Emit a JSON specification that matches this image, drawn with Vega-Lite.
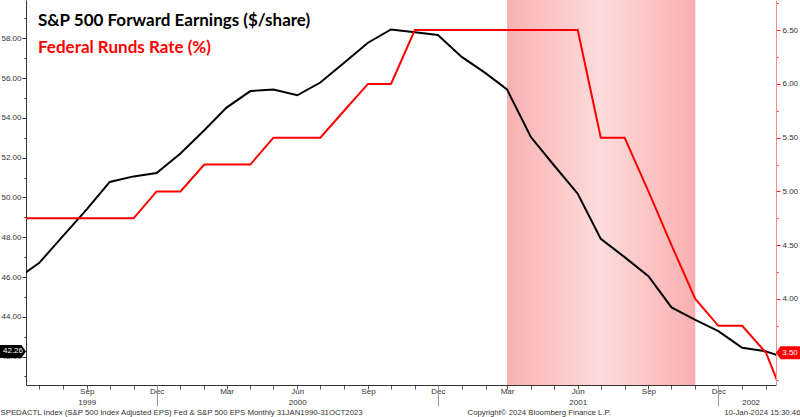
{
  "$schema": "https://vega.github.io/schema/vega-lite/v6.json",
  "width": 750,
  "height": 385,
  "autosize": "none",
  "padding": {"left": 26, "top": 0, "right": 24, "bottom": 32},
  "config": {"view": {"stroke": null}, "font": "Liberation Sans"},
  "title": {
    "text": "S&P 500 Forward Earnings ($/share)",
    "subtitle": "Federal Runds Rate (%)",
    "anchor": "start",
    "frame": "group",
    "orient": "top",
    "offset": 0,
    "dx": 12,
    "dy": 58,
    "font": "Lato",
    "fontSize": 17,
    "fontWeight": "bold",
    "color": "#000000",
    "subtitleFont": "Lato",
    "subtitleFontSize": 17,
    "subtitleFontWeight": "bold",
    "subtitleColor": "#ff0000",
    "subtitlePadding": 10
  },
  "datasets": {
    "earn": [
      {"date": "1999-06-01", "eps": 45.88},
      {"date": "1999-07-01", "eps": 46.70},
      {"date": "1999-08-01", "eps": 48.06},
      {"date": "1999-09-01", "eps": 49.40},
      {"date": "1999-10-01", "eps": 50.78},
      {"date": "1999-11-01", "eps": 51.06},
      {"date": "1999-12-01", "eps": 51.23},
      {"date": "2000-01-01", "eps": 52.21},
      {"date": "2000-02-01", "eps": 53.38},
      {"date": "2000-03-01", "eps": 54.52},
      {"date": "2000-04-01", "eps": 55.35},
      {"date": "2000-05-01", "eps": 55.43},
      {"date": "2000-06-01", "eps": 55.14},
      {"date": "2000-07-01", "eps": 55.78},
      {"date": "2000-08-01", "eps": 56.77},
      {"date": "2000-09-01", "eps": 57.78},
      {"date": "2000-10-01", "eps": 58.45},
      {"date": "2000-11-01", "eps": 58.31},
      {"date": "2000-12-01", "eps": 58.17},
      {"date": "2001-01-01", "eps": 57.07},
      {"date": "2001-02-01", "eps": 56.25},
      {"date": "2001-03-01", "eps": 55.43},
      {"date": "2001-04-01", "eps": 53.04},
      {"date": "2001-05-01", "eps": 51.62},
      {"date": "2001-06-01", "eps": 50.19},
      {"date": "2001-07-01", "eps": 47.92},
      {"date": "2001-08-01", "eps": 47.00},
      {"date": "2001-09-01", "eps": 46.04},
      {"date": "2001-10-01", "eps": 44.47},
      {"date": "2001-11-01", "eps": 43.84},
      {"date": "2001-12-01", "eps": 43.28},
      {"date": "2002-01-01", "eps": 42.44},
      {"date": "2002-02-01", "eps": 42.26},
      {"date": "2002-03-01", "eps": 41.90}
    ],
    "fed": [
      {"date": "1999-06-01", "rate": 4.75},
      {"date": "1999-07-01", "rate": 4.75},
      {"date": "1999-08-01", "rate": 4.75},
      {"date": "1999-09-01", "rate": 4.75},
      {"date": "1999-10-01", "rate": 4.75},
      {"date": "1999-11-01", "rate": 4.75},
      {"date": "1999-12-01", "rate": 5.00},
      {"date": "2000-01-01", "rate": 5.00},
      {"date": "2000-02-01", "rate": 5.25},
      {"date": "2000-03-01", "rate": 5.25},
      {"date": "2000-04-01", "rate": 5.25},
      {"date": "2000-05-01", "rate": 5.50},
      {"date": "2000-06-01", "rate": 5.50},
      {"date": "2000-07-01", "rate": 5.50},
      {"date": "2000-08-01", "rate": 5.75},
      {"date": "2000-09-01", "rate": 6.00},
      {"date": "2000-10-01", "rate": 6.00},
      {"date": "2000-11-01", "rate": 6.50},
      {"date": "2000-12-01", "rate": 6.50},
      {"date": "2001-01-01", "rate": 6.50},
      {"date": "2001-02-01", "rate": 6.50},
      {"date": "2001-03-01", "rate": 6.50},
      {"date": "2001-04-01", "rate": 6.50},
      {"date": "2001-05-01", "rate": 6.50},
      {"date": "2001-06-01", "rate": 6.50},
      {"date": "2001-07-01", "rate": 5.50},
      {"date": "2001-08-01", "rate": 5.50},
      {"date": "2001-09-01", "rate": 5.00},
      {"date": "2001-10-01", "rate": 4.50},
      {"date": "2001-11-01", "rate": 4.00},
      {"date": "2001-12-01", "rate": 3.75},
      {"date": "2002-01-01", "rate": 3.75},
      {"date": "2002-02-01", "rate": 3.50},
      {"date": "2002-03-01", "rate": 3.00}
    ],
    "recession": [
      {"start": "2001-03-01", "end": "2001-11-01"}
    ],
    "lastEps": [{"value": 42.26, "label": "42.26"}],
    "lastRate": [{"value": 3.5, "label": "3.50"}]
  },
  "layer": [
    {
      "layer": [
        {
          "data": {"name": "recession"},
          "mark": {
            "type": "rect",
            "fill": {
              "gradient": "linear",
              "x1": 0, "y1": 0, "x2": 1, "y2": 0,
              "stops": [
                {"offset": 0, "color": "#f9b1b1"},
                {"offset": 0.5, "color": "#fddcdc"},
                {"offset": 1, "color": "#f9afaf"}
              ]
            }
          },
          "encoding": {
            "x": {"field": "start", "type": "temporal"},
            "x2": {"field": "end"}
          }
        },
        {
          "data": {"name": "earn"},
          "mark": {"type": "line", "clip": true, "color": "#000000", "strokeWidth": 2},
          "encoding": {
            "x": {
              "field": "date",
              "type": "temporal",
              "scale": {
                "type": "utc",
                "domain": [
                  {"year": 1999, "month": 6, "date": 14, "utc": true},
                  {"year": 2002, "month": 2, "date": 14, "utc": true}
                ]
              },
              "axis": {
                "orient": "bottom",
                "tickCount": {"interval": "month", "step": 1},
                "labelExpr": "utcmonth(datum.value) % 3 == 2 ? utcFormat(datum.value, '%b') : ''",
                "labelOverlap": false,
                "labelFlush": false,
                "labelAlign": "center",
                "labelBaseline": "top",
                "labelPadding": -2,
                "labelFont": "Liberation Sans",
                "labelFontSize": 8,
                "labelColor": "#333333",
                "tickColor": "#555555",
                "tickSize": 4,
                "domainColor": "#333333",
                "grid": false,
                "title": "SPEDACTL Index (S&P 500 Index Adjusted EPS) Fed & S&P 500 EPS  Monthly 31JAN1990-31OCT2023",
                "titleX": -26,
                "titleY": 29,
                "titleAlign": "left",
                "titleAnchor": "start",
                "titleBaseline": "alphabetic",
                "titleFont": "Liberation Sans",
                "titleFontSize": 7.8,
                "titleFontWeight": "normal",
                "titleColor": "#333333"
              }
            },
            "y": {
              "field": "eps",
              "type": "quantitative",
              "scale": {"domain": [40.57, 59.93], "nice": false, "zero": false},
              "axis": {
                "orient": "left",
                "values": [41, 42, 43, 44, 45, 46, 47, 48, 49, 50, 51, 52, 53, 54, 55, 56, 57, 58, 59],
                "format": ".2f",
                "labelOpacity": {"condition": {"test": "datum.value % 2 != 0", "value": 0}, "value": 1},
                "labelOverlap": false,
                "labelFont": "Liberation Sans",
                "labelFontSize": 8,
                "labelColor": "#333333",
                "labelPadding": 1,
                "tickColor": "#333333",
                "tickSize": {"condition": {"test": "datum.value % 2 != 0", "value": 2}, "value": 4},
                "domainColor": "#333333",
                "grid": false,
                "title": "Copyright© 2024 Bloomberg Finance L.P.",
                "titleAngle": 0,
                "titleX": 441,
                "titleY": 414,
                "titleAlign": "left",
                "titleBaseline": "alphabetic",
                "titleFont": "Liberation Sans",
                "titleFontSize": 7.8,
                "titleFontWeight": "normal",
                "titleColor": "#333333"
              }
            }
          }
        }
      ]
    },
    {
      "data": {"name": "fed"},
      "mark": {"type": "line", "clip": true, "color": "#ff0000", "strokeWidth": 2},
      "encoding": {
        "x": {
          "field": "date",
          "type": "temporal",
          "axis": {
            "orient": "bottom",
            "values": [
              {"year": 1999, "month": 9, "date": 1, "utc": true},
              {"year": 1999, "month": 12, "date": 1, "utc": true},
              {"year": 2000, "month": 6, "date": 1, "utc": true},
              {"year": 2000, "month": 12, "date": 1, "utc": true},
              {"year": 2001, "month": 6, "date": 1, "utc": true},
              {"year": 2001, "month": 12, "date": 1, "utc": true},
              {"year": 2002, "month": 1, "date": 12, "utc": true}
            ],
            "domain": false,
            "tickSize": 21,
            "tickColor": "#999999",
            "tickOpacity": {"condition": {"test": "utcmonth(datum.value) == 11", "value": 1}, "value": 0},
            "labelExpr": "utcmonth(datum.value) == 11 ? '' : utcFormat(datum.value, '%Y')",
            "labelOverlap": false,
            "labelFlush": false,
            "labelAlign": "center",
            "labelBaseline": "top",
            "labelPadding": -8,
            "labelFont": "Liberation Sans",
            "labelFontSize": 8,
            "labelColor": "#333333",
            "grid": false,
            "title": null
          }
        },
        "y": {
          "field": "rate",
          "type": "quantitative",
          "scale": {"domain": [3.2, 6.78], "nice": false, "zero": false},
          "axis": {
            "orient": "right",
            "values": [3.25, 3.5, 3.75, 4, 4.25, 4.5, 4.75, 5, 5.25, 5.5, 5.75, 6, 6.25, 6.5, 6.75],
            "format": ".2f",
            "labelOpacity": {"condition": {"test": "(datum.value * 2) % 1 != 0", "value": 0}, "value": 1},
            "labelOverlap": false,
            "labelFont": "Liberation Sans",
            "labelFontSize": 8,
            "labelColor": "#333333",
            "labelPadding": 2,
            "tickColor": "#ff2020",
            "tickSize": {"condition": {"test": "(datum.value * 2) % 1 != 0", "value": 2}, "value": 4},
            "domainColor": "#ff8a8a",
            "grid": false,
            "title": "10-Jan-2024 15:30:46",
            "titleAngle": 0,
            "titleX": 24,
            "titleY": 414,
            "titleAlign": "right",
            "titleBaseline": "alphabetic",
            "titleFont": "Liberation Sans",
            "titleFontSize": 7.8,
            "titleFontWeight": "normal",
            "titleColor": "#333333"
          }
        }
      }
    },
    {
      "data": {"name": "lastEps"},
      "encoding": {
        "x": {
          "datum": {"year": 1999, "month": 6, "date": 14, "utc": true},
          "type": "temporal",
          "axis": {"labels": false, "ticks": false, "domain": false, "grid": false, "title": null, "orient": "bottom"}
        },
        "y": {
          "field": "value",
          "type": "quantitative",
          "scale": {"domain": [40.57, 59.93], "nice": false, "zero": false},
          "axis": {"labels": false, "ticks": false, "domain": false, "grid": false, "title": null, "orient": "left"}
        }
      },
      "layer": [
        {
          "mark": {
            "type": "point",
            "shape": "M0,0L-0.35,-0.5L-2,-0.5L-2,0.5L-0.35,0.5Z",
            "size": 676,
            "filled": true,
            "opacity": 1,
            "color": "#000000"
          }
        },
        {
          "mark": {"type": "text", "color": "#ffffff", "fontSize": 8, "font": "Liberation Sans", "align": "center", "baseline": "middle", "dx": -13},
          "encoding": {"text": {"field": "label"}}
        }
      ]
    },
    {
      "data": {"name": "lastRate"},
      "encoding": {
        "x": {
          "datum": {"year": 2002, "month": 2, "date": 14, "utc": true},
          "type": "temporal",
          "axis": {"labels": false, "ticks": false, "domain": false, "grid": false, "title": null, "orient": "bottom"}
        },
        "y": {
          "field": "value",
          "type": "quantitative",
          "scale": {"domain": [3.2, 6.78], "nice": false, "zero": false},
          "axis": {"labels": false, "ticks": false, "domain": false, "grid": false, "title": null, "orient": "right"}
        }
      },
      "layer": [
        {
          "mark": {
            "type": "point",
            "shape": "M0,0L0.35,-0.5L2,-0.5L2,0.5L0.35,0.5Z",
            "size": 676,
            "filled": true,
            "opacity": 1,
            "color": "#ff0000"
          }
        },
        {
          "mark": {"type": "text", "color": "#ffffff", "fontSize": 8, "font": "Liberation Sans", "align": "center", "baseline": "middle", "dx": 14},
          "encoding": {"text": {"field": "label"}}
        }
      ]
    }
  ],
  "resolve": {"scale": {"y": "independent"}, "axis": {"y": "independent", "x": "independent"}}
}
